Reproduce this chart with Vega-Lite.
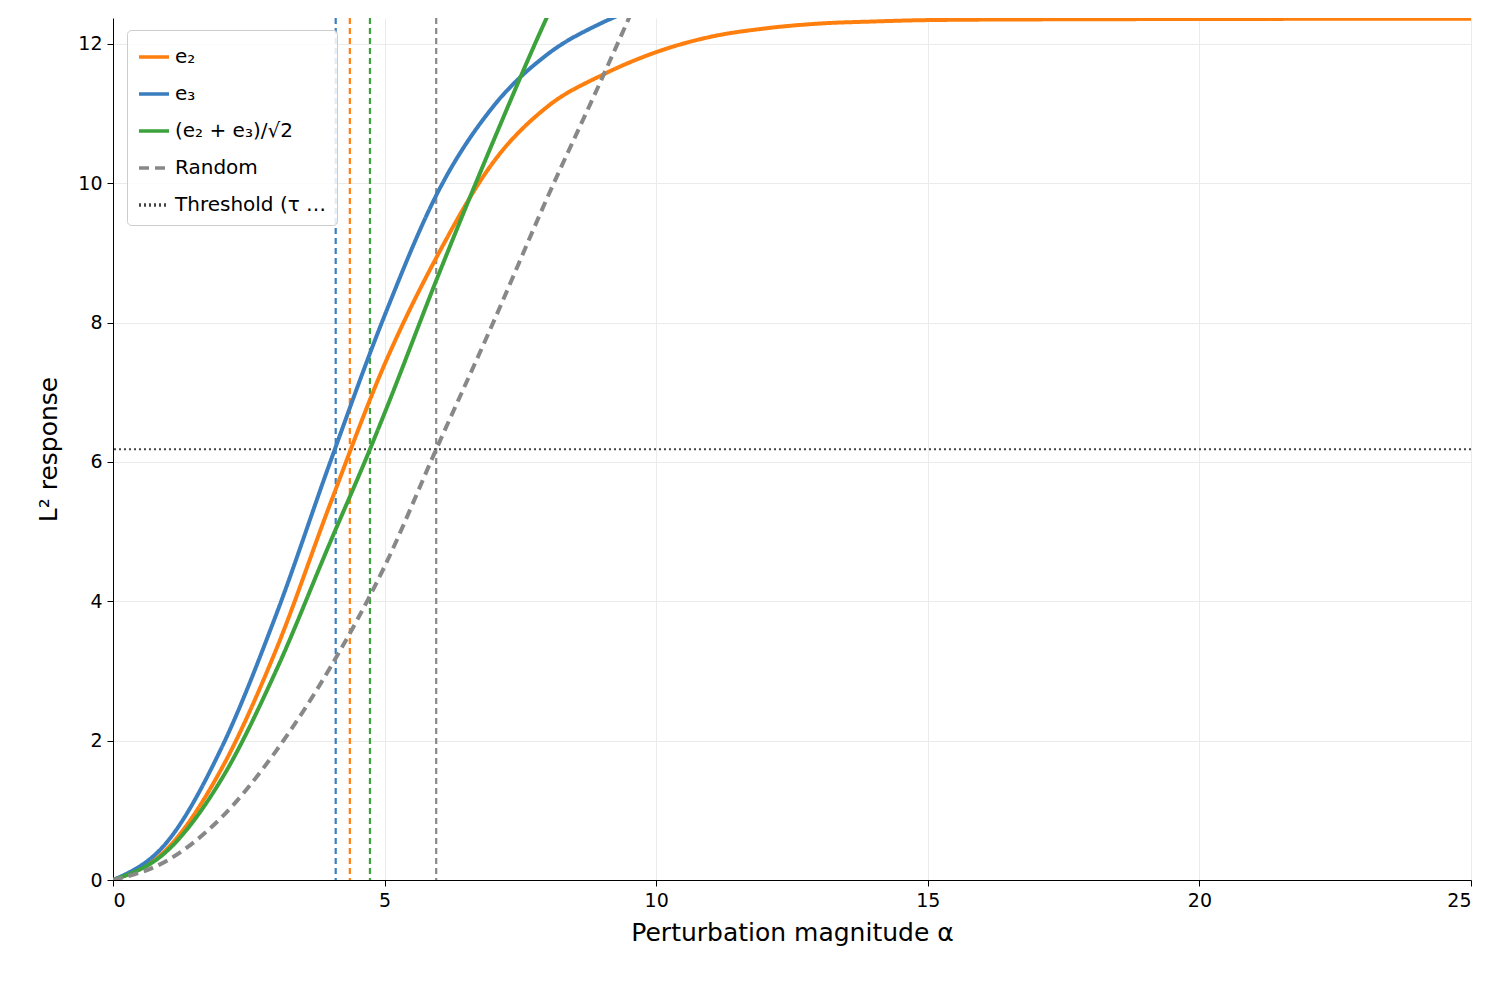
{
  "$schema": "https://vega.github.io/schema/vega-lite/v6.json",
  "width": 1358,
  "height": 862,
  "autosize": {"type": "none"},
  "padding": {"left": 113, "top": 18, "right": 35, "bottom": 102},
  "config": {
    "font": "DejaVu Sans",
    "view": {"stroke": null},
    "axis": {"grid": true, "gridColor": "#ebebeb", "gridWidth": 1, "domainColor": "#000", "tickColor": "#000", "labelFontSize": 19, "labelColor": "#000", "titleFontSize": 25, "titleFontWeight": "normal", "titleColor": "#000", "tickSize": 6, "labelPadding": 5}
  },
  "datasets": {
    "curves": [
      {"a": 0, "y": 0, "s": "e₂"}, {"a": 1, "y": 0.45, "s": "e₂"}, {"a": 2, "y": 1.6, "s": "e₂"}, {"a": 3, "y": 3.3, "s": "e₂"}, {"a": 4, "y": 5.4, "s": "e₂"}, {"a": 5, "y": 7.4, "s": "e₂"}, {"a": 6, "y": 9.0, "s": "e₂"}, {"a": 7, "y": 10.3, "s": "e₂"}, {"a": 8, "y": 11.1, "s": "e₂"}, {"a": 9, "y": 11.55, "s": "e₂"}, {"a": 10, "y": 11.88, "s": "e₂"}, {"a": 11, "y": 12.1, "s": "e₂"}, {"a": 12, "y": 12.22, "s": "e₂"}, {"a": 13, "y": 12.29, "s": "e₂"}, {"a": 14, "y": 12.32, "s": "e₂"}, {"a": 15, "y": 12.34, "s": "e₂"}, {"a": 17, "y": 12.35, "s": "e₂"}, {"a": 25, "y": 12.36, "s": "e₂"},
      {"a": 0, "y": 0, "s": "e₃"}, {"a": 1, "y": 0.55, "s": "e₃"}, {"a": 2, "y": 1.9, "s": "e₃"}, {"a": 3, "y": 3.8, "s": "e₃"}, {"a": 4, "y": 6.0, "s": "e₃"}, {"a": 5, "y": 8.1, "s": "e₃"}, {"a": 6, "y": 9.9, "s": "e₃"}, {"a": 7, "y": 11.1, "s": "e₃"}, {"a": 8, "y": 11.85, "s": "e₃"}, {"a": 9, "y": 12.3, "s": "e₃"}, {"a": 9.6, "y": 12.5, "s": "e₃"},
      {"a": 0, "y": 0, "s": "(e₂ + e₃)/√2"}, {"a": 1, "y": 0.42, "s": "(e₂ + e₃)/√2"}, {"a": 2, "y": 1.45, "s": "(e₂ + e₃)/√2"}, {"a": 3, "y": 3.0, "s": "(e₂ + e₃)/√2"}, {"a": 4, "y": 4.85, "s": "(e₂ + e₃)/√2"}, {"a": 4.73, "y": 6.18, "s": "(e₂ + e₃)/√2"}, {"a": 5, "y": 6.7, "s": "(e₂ + e₃)/√2"}, {"a": 6, "y": 8.7, "s": "(e₂ + e₃)/√2"}, {"a": 7, "y": 10.6, "s": "(e₂ + e₃)/√2"}, {"a": 8, "y": 12.4, "s": "(e₂ + e₃)/√2"}, {"a": 8.3, "y": 12.9, "s": "(e₂ + e₃)/√2"},
      {"a": 0, "y": 0, "s": "Random"}, {"a": 1, "y": 0.28, "s": "Random"}, {"a": 2, "y": 0.9, "s": "Random"}, {"a": 3, "y": 1.85, "s": "Random"}, {"a": 4, "y": 3.05, "s": "Random"}, {"a": 5, "y": 4.5, "s": "Random"}, {"a": 5.95, "y": 6.18, "s": "Random"}, {"a": 7, "y": 8.0, "s": "Random"}, {"a": 8, "y": 9.8, "s": "Random"}, {"a": 9, "y": 11.5, "s": "Random"}, {"a": 9.8, "y": 12.9, "s": "Random"}
    ],
    "vlines": [
      {"a": 4.1, "s": "e₃"}, {"a": 4.36, "s": "e₂"}, {"a": 4.73, "s": "(e₂ + e₃)/√2"}, {"a": 5.95, "s": "Random"}
    ],
    "thresh": [{"y": 6.18, "s": "Threshold (τ = 6.18)"}]
  },
  "layer": [
    {
      "data": {"name": "vlines"},
      "mark": {"type": "rule", "strokeDash": [6, 4], "strokeWidth": 2.2, "clip": true},
      "encoding": {
        "x": {"field": "a", "type": "quantitative"},
        "color": {"field": "s", "type": "nominal"}
      }
    },
    {
      "data": {"name": "thresh"},
      "mark": {"type": "rule", "strokeWidth": 2},
      "encoding": {
        "y": {"field": "y", "type": "quantitative"},
        "color": {"field": "s", "type": "nominal"},
        "strokeDash": {"field": "s", "type": "nominal"}
      }
    },
    {
      "data": {"name": "curves"},
      "mark": {"type": "line", "strokeWidth": 4, "interpolate": "monotone", "clip": true},
      "encoding": {
        "x": {"field": "a", "type": "quantitative", "title": "Perturbation magnitude α", "scale": {"domain": [0, 25], "nice": false}, "axis": {"values": [0, 5, 10, 15, 20, 25], "titlePadding": 10}},
        "y": {"field": "y", "type": "quantitative", "title": "L² response", "scale": {"domain": [0, 12.37], "nice": false}, "axis": {"values": [0, 2, 4, 6, 8, 10, 12], "format": "d", "titlePadding": 16}},
        "color": {
          "field": "s", "type": "nominal", "title": null,
          "scale": {"domain": ["e₂", "e₃", "(e₂ + e₃)/√2", "Random", "Threshold (τ = 6.18)"], "range": ["#ff7f0e", "#3a7ebf", "#3ca33c", "#888888", "#444444"]},
          "legend": {"orient": "none", "legendX": 14, "legendY": 12, "symbolType": "stroke", "symbolSize": 900, "symbolStrokeWidth": 3.5, "labelFontSize": 20, "labelColor": "#000", "rowPadding": 10, "strokeColor": "#cccccc", "fillColor": "rgba(255,255,255,0.85)", "padding": 10, "cornerRadius": 4}
        },
        "strokeDash": {
          "field": "s", "type": "nominal", "title": null,
          "scale": {"domain": ["e₂", "e₃", "(e₂ + e₃)/√2", "Random", "Threshold (τ = 6.18)"], "range": [[1, 0], [1, 0], [1, 0], [10, 6], [2, 3]]}
        }
      }
    }
  ],
  "resolve": {"scale": {"color": "shared", "strokeDash": "shared"}}
}
